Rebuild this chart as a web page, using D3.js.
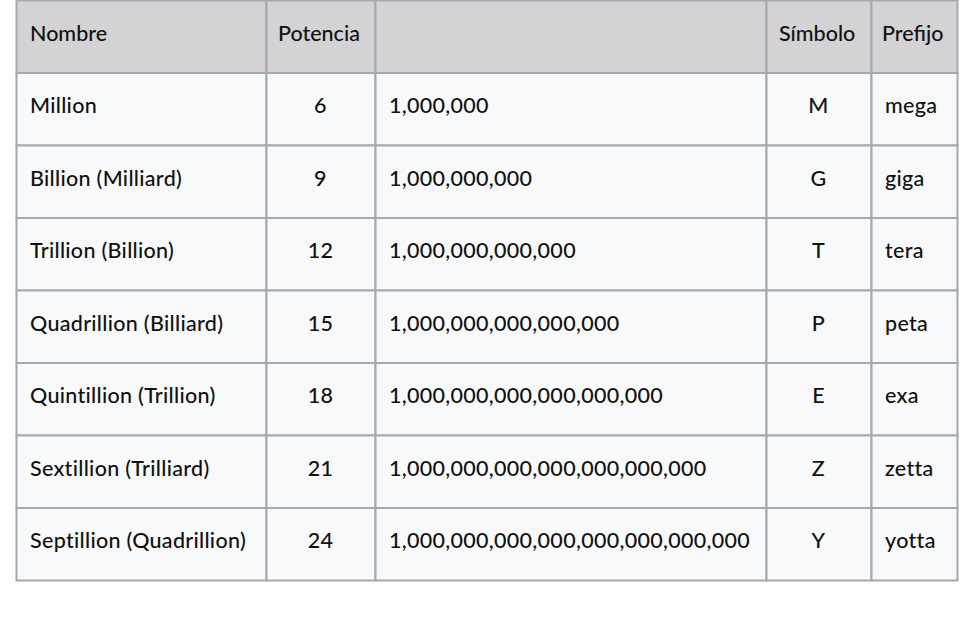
<!DOCTYPE html>
<html><head><meta charset="utf-8">
<script src="https://cdn.jsdelivr.net/npm/d3@7"></script>
<style>body{margin:0;background:#fff}</style>
</head><body>
<script>
const headers = ["Nombre", "Potencia", "", "Símbolo", "Prefijo"];
const names = ["Million", "Billion (Milliard)", "Trillion (Billion)", "Quadrillion (Billiard)",
  "Quintillion (Trillion)", "Sextillion (Trilliard)", "Septillion (Quadrillion)"];
const powers = [6, 9, 12, 15, 18, 21, 24];
const numbers = ["1,000,000", "1,000,000,000", "1,000,000,000,000", "1,000,000,000,000,000",
  "1,000,000,000,000,000,000", "1,000,000,000,000,000,000,000", "1,000,000,000,000,000,000,000,000"];
const symbols = ["M", "G", "T", "P", "E", "Z", "Y"];
const prefixes = ["mega", "giga", "tera", "peta", "exa", "zetta", "yotta"];

const colEdges = [16, 266, 375, 766, 871, 957];
const align = ["start", "middle", "start", "middle", "start"];
const rows = names.map((n, i) => [n, powers[i], numbers[i], symbols[i], prefixes[i]]);

const svg = d3.select("body").append("svg").attr("width", 975).attr("height", 641);
const y = d3.scaleLinear().domain([0, 8]).range([0.5, 580.5]);
const gRect = svg.append("g"), gText = svg.append("g");

function drawRow(cells, r, header) {
  cells.forEach((c, j) => {
    const x0 = colEdges[j], x1 = colEdges[j + 1];
    gRect.append("rect").attr("x", x0 + 0.5).attr("y", y(r))
      .attr("width", x1 - x0).attr("height", y(r + 1) - y(r))
      .attr("fill", header ? "#d4d2d4" : "#f8f9fa")
      .attr("stroke", "#a2a9b1").attr("stroke-width", 2);
    let tx = align[j] === "middle" ? (x0 + x1) / 2 : x0 + 14;
    let anchor = align[j];
    if (header && j === 1) { tx = x0 + 12; anchor = "start"; }
    if (header && j === 3) { tx = x0 + 13; anchor = "start"; }
    if (header && j === 4) { tx = x0 + 11; }
    gText.append("text").attr("x", tx).attr("y", header ? y(r) + 40 : (y(r) + y(r + 1)) / 2 + 4)
      .attr("text-anchor", anchor)
      .attr("font-family", "Lato, 'Open Sans', sans-serif").attr("font-size", 21.5)
      .attr("font-weight", 500).attr("letter-spacing", header ? 0 : 0.3)
      .attr("fill", "#111").text(c);
  });
}
drawRow(headers, 0, true);
rows.forEach((r, i) => drawRow(r, i + 1, false));
</script>
</body></html>
